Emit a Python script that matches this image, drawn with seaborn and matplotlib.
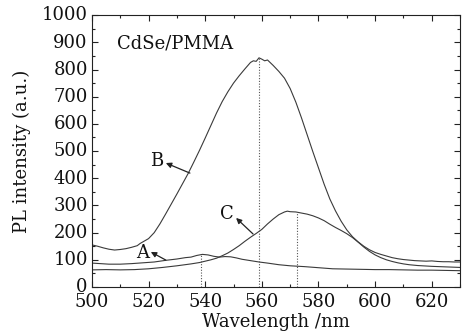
import numpy as np
import pandas as pd
import matplotlib
matplotlib.use("Agg")
import matplotlib.pyplot as plt
from matplotlib.ticker import MultipleLocator
from matplotlib.transforms import ScaledTranslation
import seaborn as sns

# PL spectra of CdSe/PMMA samples (wavelength in nm, intensity in a.u.)
wl_A = [500, 503, 506, 510, 514, 518, 522, 526, 530, 533, 535, 537, 539, 541, 543,
        545, 547, 549, 551, 553, 556, 559, 562, 566, 570, 575, 580, 585, 590, 595,
        600, 605, 610, 615, 620, 625, 630]
int_A = [88, 86, 84, 84, 86, 89, 92, 98, 103, 108, 110, 116, 120, 118, 113,
         110, 112, 111, 107, 102, 97, 92, 88, 82, 78, 75, 71, 67, 66, 65,
         64, 64, 63, 62, 62, 61, 60]

wl_B = [500, 502, 504, 506, 508, 510, 512, 514, 516, 517, 518, 520, 522, 524, 526,
        528, 530, 532, 534, 536, 538, 540, 542, 544, 546, 548, 550, 552, 554, 555,
        556, 557, 558, 559, 560, 561, 562, 563, 564, 566, 568, 570, 572, 574,
        576, 578, 580, 582, 584, 586, 588, 590, 592, 594, 596, 598, 600, 602, 604,
        606, 608, 610, 612, 614, 616, 618, 620, 622, 624, 626, 628, 630]
int_B = [155, 150, 144, 139, 136, 138, 141, 146, 152, 160, 166, 178, 200, 232, 268,
         305, 342, 380, 418, 460, 503, 548, 594, 640, 682, 718, 750, 777, 802, 814,
         826, 832, 830, 843, 838, 832, 835, 825, 815, 793, 768, 730, 680, 622,
         560, 498, 438, 378, 324, 280, 242, 210, 185, 166, 150, 137, 127, 120, 114,
         108, 104, 101, 99, 97, 96, 95, 96, 94, 93, 93, 92, 92]

wl_C = [500, 505, 510, 515, 520, 525, 530, 535, 538, 540, 542, 544, 546, 548, 550,
        552, 554, 556, 558, 560, 562, 564, 566, 568, 569, 570, 572, 574, 576, 578,
        580, 582, 584, 586, 588, 590, 592, 594, 596, 598, 600, 602, 604, 606, 608,
        610, 612, 615, 620, 625, 630]
int_C = [63, 64, 63, 64, 67, 72, 78, 85, 90, 95, 100, 106, 115, 125, 138,
         152, 168, 183, 197, 212, 232, 250, 266, 276, 279, 277, 276, 272, 268, 262,
         254, 244, 231, 219, 208, 196, 182, 165, 147, 131, 118, 108, 100, 94, 89,
         85, 82, 79, 76, 74, 72]

# wavelength of the dotted guide under each peak
peak_wl = {"A": 538.4, "B": 559.1, "C": 572.3}

series = {"A": (wl_A, int_A), "B": (wl_B, int_B), "C": (wl_C, int_C)}
df = pd.concat(
    [pd.DataFrame({"wavelength": w, "intensity": v, "sample": k})
     for k, (w, v) in series.items()],
    ignore_index=True,
)

sns.set_theme(style="ticks")
plt.rcParams["font.family"] = ["DejaVu Serif"]
plt.rcParams["mathtext.fontset"] = "dejavuserif"

fig = plt.figure(figsize=(4.69, 3.34), dpi=100)
ax = fig.add_axes([0.196, 0.1407, 0.785, 0.814])

line_color = "#3a3a3a"
sns.lineplot(data=df, x="wavelength", y="intensity", units="sample",
             estimator=None, color=line_color, linewidth=0.8, ax=ax,
             legend=False, sort=False)

# dotted guides from the axis up to each peak
for k, x0 in peak_wl.items():
    w, v = series[k]
    top = float(np.interp(x0, w, v))
    ax.vlines(x0, 0, top, colors="#555555", linestyles=(0, (1, 1.5)),
              linewidth=0.8)

ax.set_xlim(500, 630)
ax.set_ylim(0, 1000)
ax.xaxis.set_major_locator(MultipleLocator(20))
ax.xaxis.set_minor_locator(MultipleLocator(10))
ax.yaxis.set_major_locator(MultipleLocator(100))
ax.yaxis.set_minor_locator(MultipleLocator(50))
ax.tick_params(which="both", direction="in", top=True, right=True,
               colors="#222222", labelcolor="#111111", width=0.8)
ax.tick_params(which="major", length=4, labelsize=13)
ax.tick_params(axis="x", which="major", pad=4)
ax.tick_params(axis="y", which="major", pad=3)
ax.tick_params(which="minor", length=2.2)
for s in ax.spines.values():
    s.set_linewidth(0.8)
    s.set_color("#222222")

# lift the y tick labels a touch so "0" clears the x labels
lift = ScaledTranslation(0, 1.2 / 72, fig.dpi_scale_trans)
for lbl in ax.get_yticklabels():
    lbl.set_transform(lbl.get_transform() + lift)

ax.set_xlabel("Wavelength /nm", fontsize=13, labelpad=1.5, color="#111111")
ax.set_ylabel("PL intensity (a.u.)", fontsize=13, labelpad=8, color="#111111")

ax.text(508.8, 897, "CdSe/PMMA", fontsize=13, ha="left", va="center",
        color="#111111")

# curve labels with arrows pointing back at the letter
labels = {
    "A": ((518, 125), (520.8, 129), (526.1, 99)),
    "B": ((523, 463), (526.1, 456), (534.6, 419)),
    "C": ((547.5, 268), (550.9, 254), (556.9, 195)),
}
for name, (txt, head, tail) in labels.items():
    ax.text(*txt, name, fontsize=13, ha="center", va="center", color="#111111")
    ax.annotate("", xy=head, xytext=tail,
                arrowprops=dict(arrowstyle="-|>", color="#222222", lw=0.9,
                                mutation_scale=8, shrinkA=0, shrinkB=0))

fig.savefig("out.png", dpi=100, facecolor="white")
